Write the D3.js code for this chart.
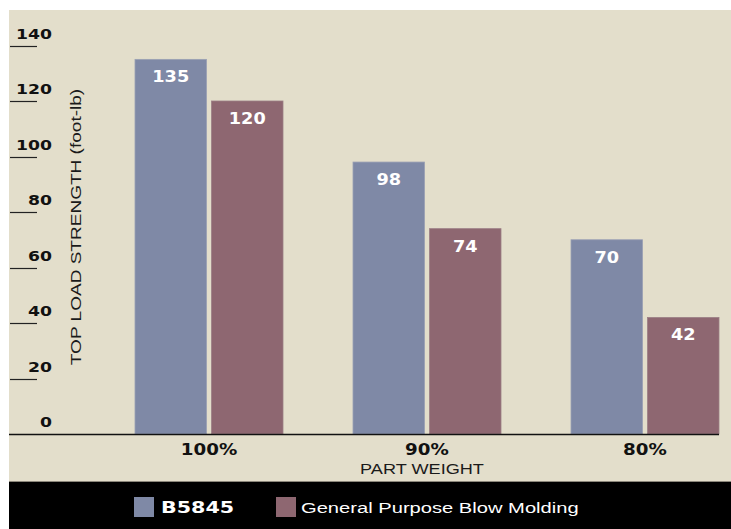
<!DOCTYPE html>
<html>
<head>
<meta charset="utf-8">
<script src="https://cdn.jsdelivr.net/npm/d3@7"></script>
<style>
  html, body { margin: 0; padding: 0; background: #ffffff; }
  svg { display: block; }
  text { font-family: "Liberation Sans", Arial, sans-serif; }
  text.heavy { font-family: "DejaVu Sans", "Liberation Sans", sans-serif; font-weight: bold; }
</style>
</head>
<body>
<svg id="chart" width="731" height="529"></svg>
<script>
// Part weight categories and top load strength (foot-lb) per resin
const categories = ["100%", "90%", "80%"];
const seriesNames = ["B5845", "General Purpose Blow Molding"];
const b5845 = [135, 98, 70];
const generalPurpose = [120, 74, 42];
const yTicks = [0, 20, 40, 60, 80, 100, 120, 140];

const colors = { "B5845": "#7f89a6", "General Purpose Blow Molding": "#8e6771" };

const svg = d3.select("#chart");
const W = 731, H = 529;

// panel + legend band
const panel = { left: 9, top: 10, bottom: 481 };
svg.append("rect").attr("x", panel.left).attr("y", panel.top)
  .attr("width", W - panel.left).attr("height", panel.bottom - panel.top)
  .attr("fill", "#e3decb");
svg.append("line").attr("x1", panel.left).attr("x2", W)
  .attr("y1", panel.bottom + 0.5).attr("y2", panel.bottom + 0.5)
  .attr("stroke", "#8c877b").attr("stroke-width", 1);
svg.append("rect").attr("x", panel.left).attr("y", panel.bottom + 1)
  .attr("width", W - panel.left).attr("height", H - panel.bottom - 1)
  .attr("fill", "#000000");

// scales
const y = d3.scaleLinear().domain([0, 140]).range([434, 45.5]);
const x0 = d3.scalePoint().domain(categories).range([209, 645]);
const groupW = 148;
const x1 = d3.scaleBand().domain(seriesNames).range([-groupW / 2, groupW / 2])
  .paddingInner(5 / 76.5).paddingOuter(0);

// helper: horizontally widened text
function wideText(g, x, yy, str, opts) {
  const t = g.append("text")
    .attr("transform", `translate(${x},${yy}) scale(${opts.sx},1)`)
    .attr("text-anchor", opts.anchor || "middle")
    .attr("font-size", opts.size)
    .attr("fill", opts.fill || "#111")
    .text(str);
  if (opts.heavy) t.attr("class", "heavy");
  return t;
}

// y-axis ticks: short rules with labels sitting above them
const axisG = svg.append("g");
yTicks.filter(v => v > 0).forEach(v => {
  axisG.append("line")
    .attr("x1", 10).attr("x2", 37)
    .attr("y1", Math.round(y(v)) + 0.5).attr("y2", Math.round(y(v)) + 0.5)
    .attr("stroke", "#222").attr("stroke-width", 1.2);
});
yTicks.forEach(v => {
  wideText(axisG, 52, y(v) - 7, String(v), { sx: 1.23, size: 14, heavy: true, anchor: "end", fill: "#111" });
});

// y-axis title
svg.append("text")
  .attr("transform", `translate(81,227) rotate(-90) scale(1.27,1)`)
  .attr("text-anchor", "middle")
  .attr("font-size", 15)
  .attr("fill", "#1a1a1a")
  .text("TOP LOAD STRENGTH (foot-lb)");

// bars
const rows = categories.map((c, i) => ({
  cat: c,
  values: [
    { name: seriesNames[0], value: b5845[i] },
    { name: seriesNames[1], value: generalPurpose[i] }
  ]
}));

const groups = svg.append("g").selectAll("g").data(rows).join("g")
  .attr("transform", d => `translate(${x0(d.cat)},0)`);

groups.selectAll("rect").data(d => d.values).join("rect")
  .attr("x", d => x1(d.name))
  .attr("y", d => y(d.value))
  .attr("width", x1.bandwidth())
  .attr("height", d => y(0) - y(d.value))
  .attr("fill", d => colors[d.name])
  .attr("stroke", d => d.name === "B5845" ? "#9aa0b4" : "#9c7f86")
  .attr("stroke-width", 0.8);

groups.each(function(d) {
  const g = d3.select(this);
  d.values.forEach(v => {
    wideText(g, x1(v.name) + x1.bandwidth() / 2, y(v.value) + 23, String(v.value),
      { sx: 1.18, size: 15, heavy: true, fill: "#ffffff" });
  });
});

// baseline
const lastRight = x0(categories[categories.length - 1]) + groupW / 2;
svg.append("line")
  .attr("x1", panel.left).attr("x2", lastRight)
  .attr("y1", y(0) + 0.5).attr("y2", y(0) + 0.5)
  .attr("stroke", "#111").attr("stroke-width", 1.5);

// category labels + x title
categories.forEach(c => {
  wideText(svg, x0(c), 455, c, { sx: 1.22, size: 15, heavy: true, fill: "#111" });
});
wideText(svg, 422, 474, "PART WEIGHT", { sx: 1.21, size: 15, fill: "#1a1a1a" });

// legend
const legend = [
  { name: seriesNames[0], x: 134, tx: 161, heavy: true, sx: 1.29, size: 16 },
  { name: seriesNames[1], x: 276, tx: 301, heavy: false, sx: 1.3, size: 15.5 }
];
legend.forEach(l => {
  svg.append("rect").attr("x", l.x).attr("y", 497).attr("width", 20).attr("height", 20)
    .attr("fill", colors[l.name]);
  wideText(svg, l.tx, 513, l.name, { sx: l.sx, size: l.size, heavy: l.heavy, anchor: "start", fill: "#ffffff" });
});
</script>
</body>
</html>
